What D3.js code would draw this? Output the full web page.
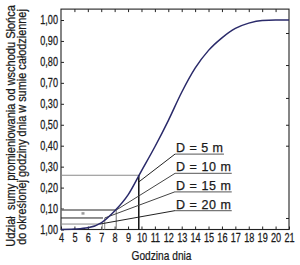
<!DOCTYPE html>
<html><head><meta charset="utf-8">
<script src="https://cdn.jsdelivr.net/npm/d3@7"></script>
<style>
html,body{margin:0;padding:0;background:#fff;}
svg{display:block;}
text{font-family:"Liberation Sans",Arial,Helvetica,sans-serif;fill:#1a1a1a;stroke:#1a1a1a;stroke-width:0.25px;}
</style></head>
<body>
<svg id="c" width="300" height="265"></svg>
<script>
// ---- data ----
const hours = [4,5,6,7,8,9,10,11,12,13,14,15,16,17,18,19,20,21];
const share = [0,0.002,0.008,0.032,0.088,0.165,0.28,0.395,0.52,0.655,0.77,0.855,0.915,0.96,0.985,0.998,1.0,1.0];
const xTickLabels = ["4","5","6","7","8","9","10","11","12","13","14","15","16","17","18","19","20","21"];
const yTickValues = [0,0.1,0.2,0.3,0.4,0.5,0.6,0.7,0.8,0.9,1.0];
const yTickLabels = ["1,00","0,10","0,20","0,30","0,40","0,50","0,30","0,70","0,80","0,90","1,00"];
const rightTickValues = [0.938,0.785,0.628,0.50,0.40,0.055];
// horizontal guide lines: [value, hour where it meets the curve]
const guideH = [[0.259,9.87],[0.093,8.12],[0.055,7.13],[0.026,6.9]];
// vertical guide lines: [hour, value]
const guideV = [[9.8,0.259],[8.12,0.093],[7.26,0.055],[7.08,0.026]];
const depthLabels = ["D = 5 m","D = 10 m","D = 15 m","D = 20 m"];
// leader lines: [hourStart, valueStart, hourEnd, valueEnd, underlineEndHour]
const leaders = [
  [9.82,0.228,12.5,0.360,16.15],
  [8.12,0.093,12.5,0.268,16.73],
  [7.26,0.055,12.5,0.180,16.73],
  [6.9,0.026,12.5,0.090,16.73]
];
const markerPoint = [5.64,0.078];
const yTitle = ["Udział  sumy promieniowania od wschodu Słońca","do określonej godziny dnia w sumie całodziennej"];
const xTitle = "Godzina dnia";

// ---- layout ----
const svg = d3.select("#c");
const x = d3.scaleLinear().domain([4,21]).range([61,289]);
const y = d3.scaleLinear().domain([0,1]).range([229.5,20]);
const yTop = 1.052;
const condense = 0.76;

// frame
svg.append("rect").attr("x",x(4)).attr("y",y(yTop)).attr("width",x(21)-x(4)).attr("height",y(0)-y(yTop))
  .attr("fill","none").attr("stroke","#222").attr("stroke-width",1.1);

// axes (inward ticks)
const axB = svg.append("g").attr("transform",`translate(0,${y(0)})`)
  .call(d3.axisBottom(x).tickValues(hours).tickSize(-3).tickPadding(4).tickFormat((d,i)=>xTickLabels[i]));
const axT = svg.append("g").attr("transform",`translate(0,${y(yTop)})`)
  .call(d3.axisTop(x).tickValues(hours.slice(1,-1)).tickSize(-3).tickFormat(""));
const axL = svg.append("g").attr("transform",`translate(${x(4)},0)`)
  .call(d3.axisLeft(y).tickValues(yTickValues).tickSize(-3).tickPadding(4).tickFormat((d,i)=>yTickLabels[i]));
const axR = svg.append("g").attr("transform",`translate(${x(21)},0)`)
  .call(d3.axisRight(y).tickValues(rightTickValues).tickSize(-3).tickFormat(""));
[axB,axT,axL,axR].forEach(g=>{
  g.select(".domain").remove();
  g.selectAll(".tick line").attr("stroke","#222").attr("stroke-width",1);
  g.selectAll("text").attr("font-family",null).attr("fill",null).style("font-size","12px");
});
// condensed tick labels: move x into transform so the scale keeps anchors in place
axB.selectAll(".tick text").attr("transform",`scale(${condense},1)`);
axL.selectAll(".tick text").each(function(){
  const t=d3.select(this); const xx=+t.attr("x");
  t.attr("x",0).attr("transform",`translate(${xx+1},0) scale(${condense},1)`);
});

// guide lines
svg.selectAll(".gh").data(guideH).enter().append("line")
  .attr("x1",x(4)).attr("x2",d=>x(d[1])).attr("y1",d=>y(d[0])).attr("y2",d=>y(d[0]))
  .attr("stroke",(d,i)=>["#8a8a8a","#6e6e6e","#222","#8a8a8a"][i])
  .attr("stroke-width",(d,i)=>[1.2,1.6,1,1][i]);
svg.selectAll(".gv").data(guideV).enter().append("line")
  .attr("x1",d=>x(d[0])).attr("x2",d=>x(d[0])).attr("y1",d=>y(d[1])).attr("y2",y(0))
  .attr("stroke",(d,i)=>["#111","#8a8a8a","#8a8a8a","#999"][i])
  .attr("stroke-width",(d,i)=>[1.5,1.2,1,1][i]);

// marker
svg.append("rect").attr("x",x(markerPoint[0])-1.5).attr("y",y(markerPoint[1])-1).attr("width",3).attr("height",2.5).attr("fill","#999");

// leaders + labels
svg.selectAll(".ld").data(leaders).enter().append("line")
  .attr("x1",d=>x(d[0])).attr("y1",d=>y(d[1])).attr("x2",d=>x(d[2])).attr("y2",d=>y(d[3]))
  .attr("stroke",(d,i)=>["#222","#444","#444","#222"][i]).attr("stroke-width",1);
svg.selectAll(".ul").data(leaders).enter().append("line")
  .attr("x1",d=>x(d[2])).attr("y1",d=>y(d[3])).attr("x2",d=>x(d[4])).attr("y2",d=>y(d[3]))
  .attr("stroke","#777").attr("stroke-width",1.3);
svg.selectAll(".dl").data(leaders).enter().append("text")
  .attr("x",d=>x(d[2])+1).attr("y",d=>y(d[3])-2)
  .attr("textLength",(d,i)=>i===0?47:55).attr("lengthAdjust","spacing")
  .style("font-size","12.5px").style("white-space","pre")
  .text((d,i)=>depthLabels[i]);

// curve
svg.append("path").datum(hours.map((h,i)=>[h,share[i]]))
  .attr("d",d3.line().x(d=>x(d[0])).y(d=>y(d[1])).curve(d3.curveMonotoneX))
  .attr("fill","none").attr("stroke","#2a2a6a").attr("stroke-width",1.5);

// titles (condensed by measured scale)
function fit(sel, target, base){
  sel.each(function(d,i){
    const w=this.getComputedTextLength();
    const s=(typeof target==="function"?target(d,i):target)/w;
    d3.select(this).attr("transform",(typeof base==="function"?base(d,i):base)+` scale(${s},1)`);
  });
}
const xt = svg.append("text").attr("x",0).attr("y",0).attr("text-anchor","middle")
  .style("font-size","13px").text(xTitle);
fit(xt,60,"translate(161.5,259.5)");
const yt = svg.selectAll(".yt").data(yTitle).enter().append("text")
  .attr("x",0).attr("y",0).attr("text-anchor","middle")
  .style("font-size","12.5px").style("white-space","pre").text(d=>d);
fit(yt,(d,i)=>[242,236][i],(d,i)=>`translate(${[15,26][i]},${[126,127][i]}) rotate(-90)`);
</script>
</body></html>
